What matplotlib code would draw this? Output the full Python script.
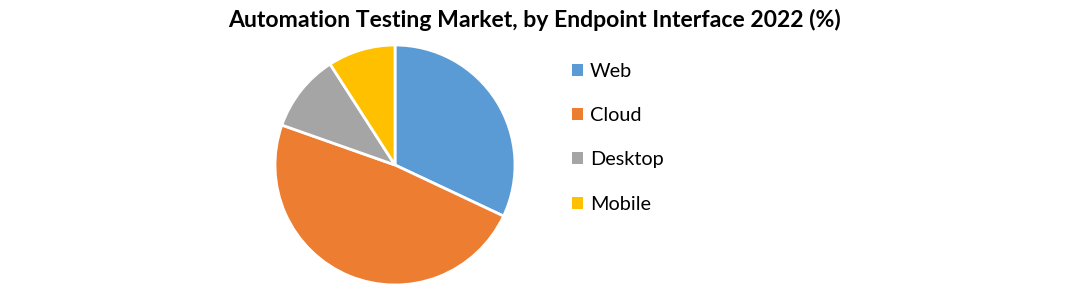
import matplotlib.pyplot as plt

# datos del grafico
categorias = ["Web", "Cloud", "Desktop", "Mobile"]
valores = [32.0, 48.4, 10.5, 9.1]
colores = ["#5b9bd5", "#ed7d31", "#a5a5a5", "#ffc000"]

W, H = 1083, 286
fig = plt.figure(figsize=(W / 100, H / 100), dpi=100)
plt.rcParams['font.family'] = ['Lato', 'DejaVu Sans']

# ejes del pastel: centro (395,165), radio 120 px
ax = fig.add_axes([275 / W, (H - 285) / H, 240 / W, 240 / H])
wedges, _ = ax.pie(valores, colors=colores, startangle=90, counterclock=False,
                   wedgeprops=dict(edgecolor="white", linewidth=2))
ax.set_xlim(-1, 1)
ax.set_ylim(-1, 1)
ax.axis("off")

fig.text(534 / W, 1 - 20 / H, "Automation Testing Market, by Endpoint Interface 2022 (%)",
         ha="center", va="center", fontsize=16.6, fontweight="bold")

leg = fig.legend(wedges, categorias, loc="upper left",
                 bbox_to_anchor=(562 / W, 1 - 53 / H), frameon=False,
                 fontsize=14.3, handlelength=0.55, handleheight=0.55,
                 handletextpad=0.35, labelspacing=1.37, borderpad=0)
for h in leg.legend_handles:
    h.set_edgecolor("none")

fig.savefig("out.png", dpi=100)
